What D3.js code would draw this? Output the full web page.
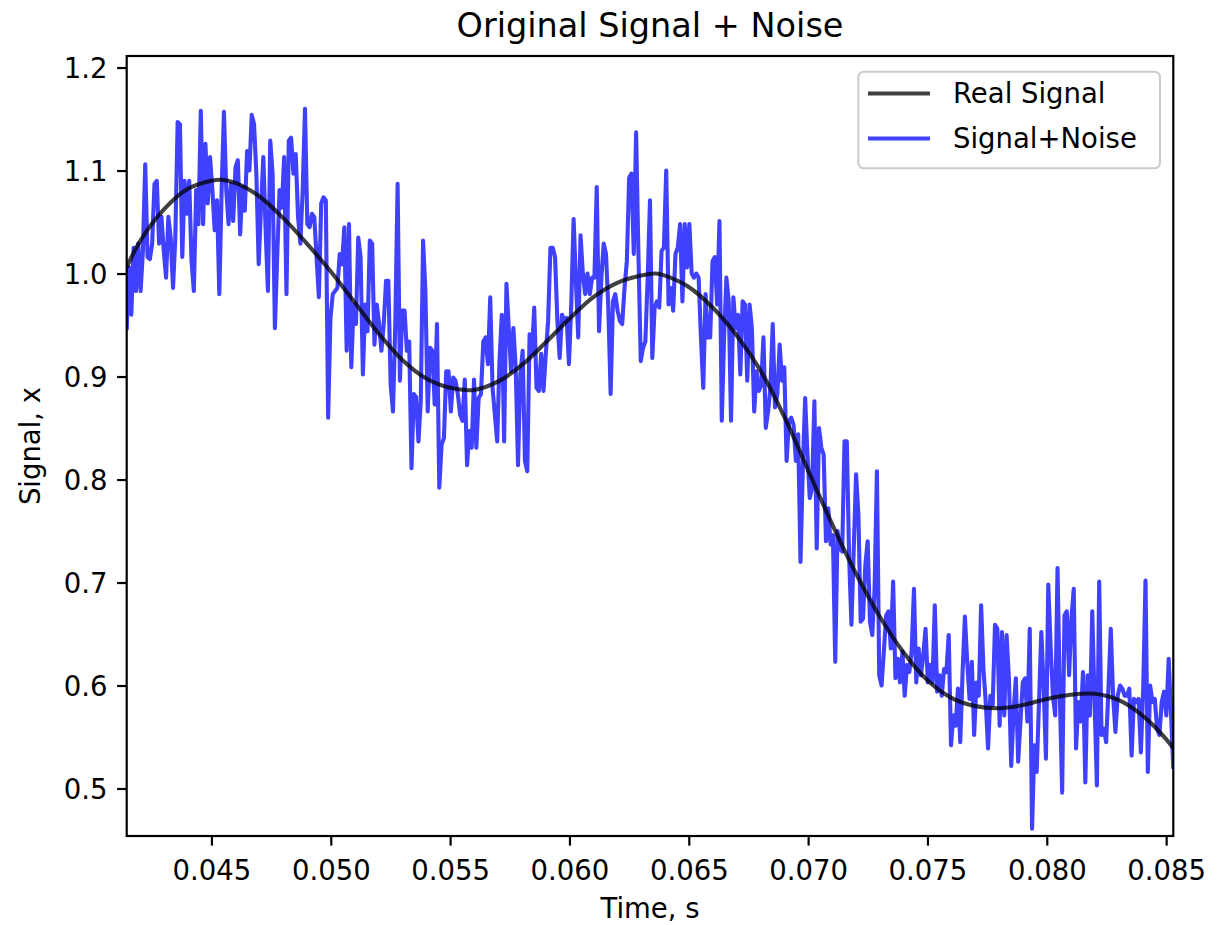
<!DOCTYPE html>
<html>
<head>
<meta charset="utf-8">
<script src="https://cdn.jsdelivr.net/npm/d3@7"></script>
<style>
  html, body { margin: 0; padding: 0; background: #ffffff; }
  svg { display: block; font-family: "DejaVu Sans", sans-serif; }
</style>
</head>
<body>
<svg id="chart" width="1224" height="925"></svg>
<script>
// ---------------- data ----------------
const chartTitle = "Original Signal + Noise";
const xLabel = "Time, s";
const yLabel = "Signal, x";
const legendLabels = ["Real Signal", "Signal+Noise"];

const xTicks = [0.045, 0.050, 0.055, 0.060, 0.065, 0.070, 0.075, 0.080, 0.085];
const yTicks = [0.5, 0.6, 0.7, 0.8, 0.9, 1.0, 1.1, 1.2];
const xDomain = [0.04145, 0.0853];
const yDomain = [0.4539, 1.2112];

// Real (clean) signal, sampled at knots: time (s) and value
const realTimes = [0.04145, 0.042, 0.043, 0.044, 0.045, 0.0454, 0.046, 0.047, 0.048, 0.049,
  0.050, 0.051, 0.052, 0.053, 0.054, 0.055, 0.056, 0.057, 0.058, 0.059,
  0.060, 0.061, 0.062, 0.063, 0.0636, 0.064, 0.065, 0.066, 0.067, 0.068,
  0.069, 0.070, 0.071, 0.072, 0.073, 0.074, 0.075, 0.076, 0.077, 0.078,
  0.079, 0.080, 0.081, 0.082, 0.083, 0.084, 0.085, 0.0853];
const realValues = [1.006, 1.031, 1.062, 1.082, 1.090, 1.091, 1.088, 1.075, 1.054, 1.029,
  1.002, 0.972, 0.942, 0.916, 0.898, 0.889, 0.887, 0.895, 0.911, 0.933,
  0.956, 0.977, 0.991, 0.998, 1.000, 0.998, 0.987, 0.967, 0.940, 0.906,
  0.861, 0.809, 0.757, 0.709, 0.667, 0.632, 0.605, 0.588, 0.580, 0.578,
  0.581, 0.587, 0.591, 0.592, 0.586, 0.571, 0.548, 0.539];

// Noisy signal: equally spaced samples from noiseStart to noiseEnd
const noiseStart = 0.04145;
const noiseEnd = 0.0853;
const noiseValues = [
  0.945, 1.006, 0.960, 1.025, 0.983, 1.029, 0.983, 1.022, 1.106, 1.016, 1.014,
  1.029, 1.087, 1.090, 1.029, 1.055, 1.022, 0.996, 1.055, 1.035, 0.986,
  1.035, 1.147, 1.145, 1.016, 1.090, 1.058, 1.090, 1.012, 0.983, 1.081,
  1.048, 1.158, 1.048, 1.126, 1.068, 1.113, 1.081, 1.042, 1.071, 0.980,
  1.081, 1.157, 1.081, 1.048, 1.087, 1.051, 1.103, 1.110, 1.038, 1.084,
  1.061, 1.119, 1.100, 1.154, 1.145, 1.097, 1.009, 1.064, 1.113, 1.042,
  0.983, 1.129, 1.097, 0.947, 1.016, 1.081, 1.064, 1.113, 0.980, 1.129,
  1.132, 1.097, 1.116, 1.055, 1.029, 1.081, 1.160, 1.048, 1.045, 1.058,
  1.055, 1.016, 0.977, 1.068, 1.074, 1.071, 0.860, 0.957, 0.980, 0.983,
  0.986, 1.019, 1.009, 1.045, 0.925, 1.048, 0.909, 0.970, 0.951, 1.035,
  1.016, 0.902, 0.970, 0.944, 1.032, 1.029, 0.931, 0.970, 0.951, 0.925,
  0.951, 0.993, 0.993, 0.892, 0.866, 0.951, 1.087, 0.896, 0.964, 0.964,
  0.925, 0.934, 0.811, 0.883, 0.880, 0.837, 0.876, 1.032, 0.983, 0.866,
  0.928, 0.925, 0.873, 0.951, 0.792, 0.834, 0.840, 0.905, 0.905, 0.866,
  0.899,
  0.896, 0.883, 0.863, 0.857, 0.897, 0.814, 0.847, 0.831, 0.897, 0.831,
  0.879, 0.883, 0.934, 0.938, 0.912, 0.977, 0.889, 0.863, 0.837, 0.915,
  0.960, 0.837, 0.990, 0.947, 0.905, 0.947, 0.909, 0.814, 0.902, 0.925,
  0.818, 0.808, 0.941, 0.922, 0.967, 0.889, 0.886, 0.922, 0.886, 0.922,
  0.954, 1.025, 1.025, 1.016, 0.954, 0.918, 0.960, 0.954, 0.957, 0.912,
  0.970, 1.053, 0.993, 0.938, 1.037, 1.000, 0.980, 1.000, 0.980, 0.996,
  0.996, 1.084, 0.944, 0.996, 1.029, 1.019, 0.967, 0.883, 0.973, 0.980,
  0.964, 0.954,
  0.951, 0.986, 1.012, 1.093, 1.097, 1.019, 1.137, 1.019, 0.915, 0.928,
  0.934, 0.996, 1.071, 0.918, 0.967, 0.973, 0.967, 1.022, 1.025, 1.100,
  0.970, 0.986, 0.964, 1.019, 1.025, 1.048, 0.973, 1.048, 1.006, 1.048,
  1.000, 0.996, 1.000, 0.996, 0.938, 0.889, 0.980, 0.938, 0.938, 1.012,
  1.016, 0.970, 1.051, 0.857, 0.938, 0.996, 0.973, 0.857, 0.977, 0.947,
  0.960, 0.902, 0.973, 0.970, 0.896, 0.970, 0.947, 0.866, 0.905, 0.886,
  0.892, 0.938, 0.850, 0.866, 0.889, 0.951, 0.870, 0.883, 0.931, 0.896,
  0.909,
  0.818, 0.857, 0.860, 0.853, 0.818, 0.844, 0.720, 0.811, 0.879, 0.824,
  0.782, 0.792, 0.876, 0.733, 0.850, 0.831, 0.824, 0.740, 0.772, 0.737,
  0.746, 0.623, 0.750, 0.733, 0.730, 0.837, 0.837, 0.724, 0.659, 0.733,
  0.805, 0.766, 0.662, 0.665, 0.717, 0.740, 0.662, 0.649, 0.694, 0.808,
  0.610, 0.600, 0.633, 0.668, 0.672, 0.636, 0.701, 0.607, 0.626, 0.603,
  0.633, 0.590, 0.620, 0.613, 0.633, 0.694, 0.603, 0.636, 0.610, 0.629,
  0.655, 0.603, 0.620, 0.603, 0.678, 0.594, 0.610, 0.590, 0.616, 0.613,
  0.649,
  0.542, 0.571, 0.561, 0.597, 0.545, 0.613, 0.667, 0.623, 0.587, 0.623,
  0.552, 0.603, 0.590, 0.678, 0.616, 0.584, 0.539, 0.590, 0.581, 0.659,
  0.655, 0.561, 0.652, 0.571, 0.649, 0.607, 0.522, 0.574, 0.607, 0.526,
  0.565, 0.603, 0.607, 0.565, 0.655, 0.461, 0.542, 0.516, 0.584, 0.652,
  0.600, 0.529, 0.698, 0.639, 0.590, 0.571, 0.714, 0.590, 0.496, 0.668,
  0.672, 0.610, 0.665, 0.694, 0.539, 0.584, 0.565, 0.613, 0.506, 0.610,
  0.571, 0.672, 0.584, 0.503, 0.701, 0.552, 0.558, 0.545, 0.597, 0.655,
  0.590, 0.555, 0.590, 0.600, 0.597, 0.590, 0.590, 0.597, 0.532, 0.587,
  0.584, 0.587, 0.535, 0.597, 0.702, 0.516, 0.600, 0.584, 0.587, 0.558,
  0.552, 0.584, 0.594, 0.571, 0.626, 0.574, 0.519
];

// ---------------- layout ----------------
const W = 1224, H = 925;
const plot = { left: 126.7, right: 1173.3, top: 56, bottom: 836 };
const tickFont = 27.5, titleFont = 33.5;
const tickLen = 9.6, tickPad = 9.6;
const spineW = 2.2, lineW = 4.1;
const blueCol = "rgba(0,0,255,0.75)";
const blackCol = "rgba(0,0,0,0.75)";

const svg = d3.select("#chart");

const x = d3.scaleLinear().domain(xDomain).range([plot.left, plot.right]);
const y = d3.scaleLinear().domain(yDomain).range([plot.bottom, plot.top]);

svg.append("defs").append("clipPath").attr("id", "clip")
  .append("rect")
  .attr("x", plot.left).attr("y", plot.top)
  .attr("width", plot.right - plot.left).attr("height", plot.bottom - plot.top);

const nStep = (noiseEnd - noiseStart) / (noiseValues.length - 1);
const noiseData = noiseValues.map((v, i) => ({ t: noiseStart + i * nStep, v }));
const realData = realTimes.map((t, i) => ({ t, v: realValues[i] }));

const lineGen = d3.line().x(d => x(d.t)).y(d => y(d.v));
const smoothGen = d3.line().x(d => x(d.t)).y(d => y(d.v)).curve(d3.curveCatmullRom.alpha(0.5));

const g = svg.append("g").attr("clip-path", "url(#clip)");
g.append("path").datum(noiseData)
  .attr("d", lineGen)
  .attr("fill", "none").attr("stroke", blueCol).attr("stroke-width", lineW)
  .attr("stroke-linejoin", "round").attr("stroke-linecap", "butt");
g.append("path").datum(realData)
  .attr("d", smoothGen)
  .attr("fill", "none").attr("stroke", blackCol).attr("stroke-width", lineW)
  .attr("stroke-linejoin", "round");

const xAxis = d3.axisBottom(x).tickValues(xTicks).tickFormat(d3.format(".3f"))
  .tickSize(tickLen).tickPadding(tickPad);
const yAxis = d3.axisLeft(y).tickValues(yTicks).tickFormat(d3.format(".1f"))
  .tickSize(tickLen).tickPadding(tickPad);

const gx = svg.append("g").attr("transform", `translate(0,${plot.bottom})`).call(xAxis);
const gy = svg.append("g").attr("transform", `translate(${plot.left},0)`).call(yAxis);
[gx, gy].forEach(ax => {
  ax.select(".domain").remove();
  ax.selectAll(".tick line").attr("stroke", "#000").attr("stroke-width", spineW);
  ax.selectAll(".tick text").attr("fill", "#000")
    .style("font-size", tickFont + "px").style("font-family", "DejaVu Sans");
});
gx.selectAll(".tick text").attr("dy", null).attr("y", 44);
gy.selectAll(".tick text").attr("dy", "0.36em");

svg.append("rect")
  .attr("x", plot.left).attr("y", plot.top)
  .attr("width", plot.right - plot.left).attr("height", plot.bottom - plot.top)
  .attr("fill", "none").attr("stroke", "#000").attr("stroke-width", spineW);

svg.append("text").attr("x", (plot.left + plot.right) / 2).attr("y", 37)
  .attr("text-anchor", "middle").style("font-size", titleFont + "px").text(chartTitle);
svg.append("text").attr("x", (plot.left + plot.right) / 2).attr("y", 918)
  .attr("text-anchor", "middle").style("font-size", tickFont + "px").text(xLabel);
svg.append("text")
  .attr("transform", `translate(40,${(plot.top + plot.bottom) / 2}) rotate(-90)`)
  .attr("text-anchor", "middle").style("font-size", tickFont + "px").text(yLabel);

const leg = svg.append("g");
leg.append("rect").attr("x", 858.3).attr("y", 71.7).attr("width", 301.7).attr("height", 96.6)
  .attr("rx", 5.5).attr("ry", 5.5)
  .attr("fill", "rgba(255,255,255,0.8)").attr("stroke", "#cccccc").attr("stroke-width", 2);
const legCols = [blackCol, blueCol];
legendLabels.forEach((lab, i) => {
  const cy = 93.5 + i * 45;
  leg.append("line").attr("x1", 868).attr("x2", 930).attr("y1", cy).attr("y2", cy)
    .attr("stroke", legCols[i]).attr("stroke-width", lineW);
  leg.append("text").attr("x", 953).attr("y", cy).attr("dy", "0.36em")
    .style("font-size", tickFont + "px").text(lab);
});
</script>
</body>
</html>
